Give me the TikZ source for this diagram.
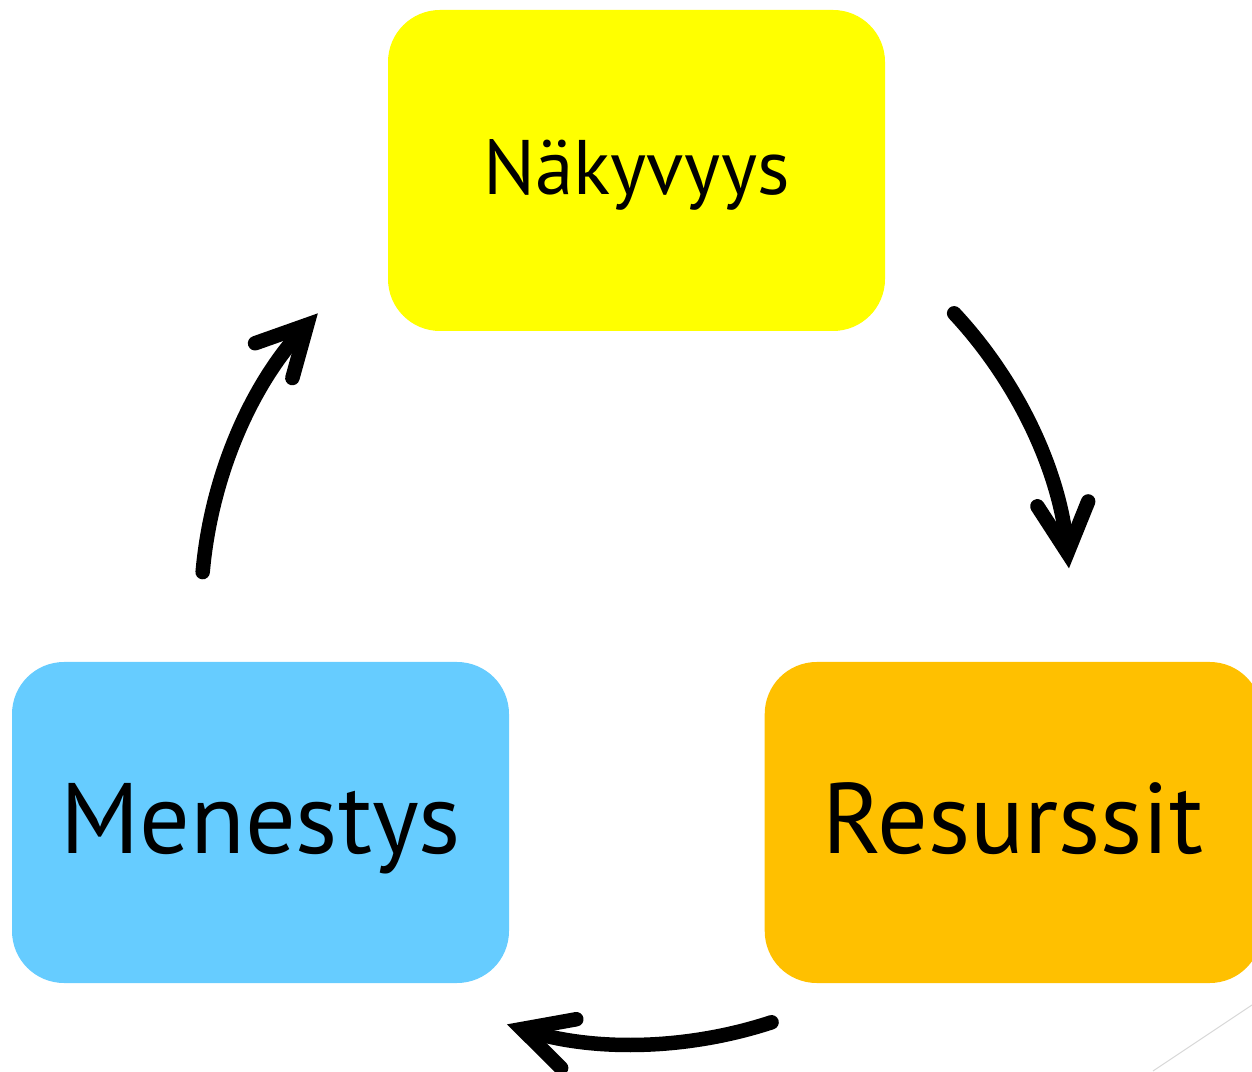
\documentclass[tikz,border=0pt]{standalone}
\usepackage{fontspec}
\setmainfont{PT Sans}
\usetikzlibrary{calc,positioning,arrows.meta}
\definecolor{nakyellow}{RGB}{255,255,0}
\definecolor{menblue}{RGB}{102,204,255}
\definecolor{resorange}{RGB}{255,192,0}

\begin{document}
\begin{tikzpicture}[every node/.style={rounded corners=1.04cm, minimum width=9.94cm, minimum height=6.42cm},
    big/.style={font=\fontsize{57}{62}\selectfont, text height=1.42cm, text depth=0.2cm},
    cyc/.style={line width=0.29cm, line cap=round,
        -{Straight Barb[length=0.98cm,width=1.02cm,line cap=round,line join=miter]}}]
    \useasboundingbox (0,0) rectangle (25.04,21.42);
    \node[fill=nakyellow, font=\fontsize{44}{48}\selectfont, text height=1.1cm, text depth=0.12cm]
        (nakyvyys) at (12.73,18.01) {Näkyvyys};
    \node[fill=menblue, big] (menestys) at (5.21,4.97) {Menestys};
    \node[right=5.1cm of menestys, fill=resorange, big] (resurssit) {Resurssit};

    % arrow ends round the middle of the cycle
    \coordinate (mid) at (12.72,9.22);
    \coordinate (m1) at ($(mid)+(175:8.7)$);
    \coordinate (n2) at ($(mid)+(43:8.7)$);
    \coordinate (r2) at ($(mid)+(-71.8:8.68)$);

    \draw[cyc] (m1) arc[start angle=175, end angle=137, radius=8.7];
    \draw[cyc] (n2) arc[start angle=43, end angle=5.5, radius=8.7];
    \draw[cyc] (r2) arc[start angle=-71.8, end angle=-107.3, radius=8.68];

    \draw[gray!30, line width=0.6pt] (23.06,0) -- (25.04,1.32);
\end{tikzpicture}
\end{document}
